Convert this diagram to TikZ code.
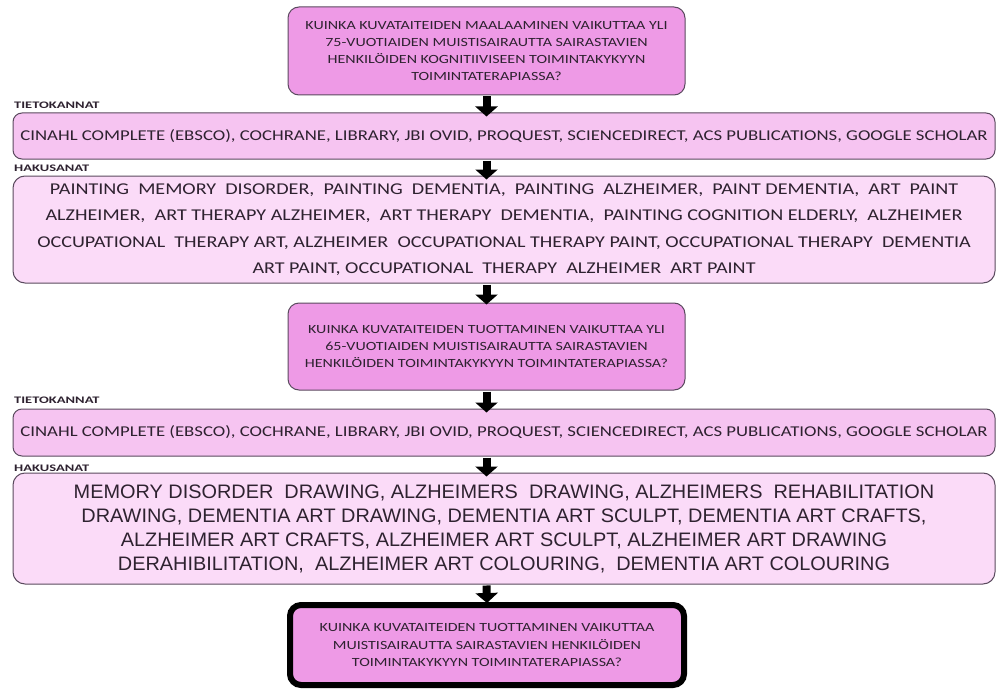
\documentclass[tikz,border=0pt]{standalone}
\usepackage{fontspec}
\setmainfont{Carlito}
\newfontfamily\arialf[FakeStretch=1.02]{Liberation Sans}
\newfontfamily\calq[FakeStretch=1.28]{Carlito}
\newfontfamily\cald[FakeStretch=1.25]{Carlito}
\newfontfamily\calk[FakeStretch=1.22]{Carlito}
\newfontfamily\call[FakeStretch=1.45]{Carlito}
\usetikzlibrary{arrows.meta}
\definecolor{dpink}{HTML}{EE9AE6}
\definecolor{mpink}{HTML}{F6C4F1}
\definecolor{lpink}{HTML}{FBDBF8}
\definecolor{bord}{HTML}{5A4A5E}
\definecolor{txt}{HTML}{2E2230}
\tikzset{
  qbox/.style={draw=bord, line width=1pt, fill=dpink, rounded corners=11pt, inner sep=0pt, minimum width=397pt, align=center, text=txt, font=\calq\fontsize{12.5}{17.3}\selectfont},
  dbbox/.style={draw=bord, line width=1pt, fill=mpink, rounded corners=9pt, inner sep=0pt, minimum width=982pt, align=center, text=txt, font=\cald\fontsize{15}{18}\selectfont},
  kwbox/.style={draw=bord, line width=1pt, fill=lpink, rounded corners=12pt, inner sep=0pt, minimum width=982pt, align=center, text=txt},
  lbl/.style={anchor=base west, inner sep=0pt, text=txt, font=\call\fontsize{10}{12}\selectfont\bfseries},
  bigarrow/.style={line width=8pt, -{Triangle[width=22pt,length=10pt]}, black}
}
\begin{document}
\begin{tikzpicture}[x=1pt,y=-1pt]
\useasboundingbox (0,0) rectangle (998,690);
\node[qbox, minimum height=88pt] (b1) at (486.5,51) {KUINKA KUVATAITEIDEN MAALAAMINEN VAIKUTTAA YLI\\75-VUOTIAIDEN MUISTISAIRAUTTA SAIRASTAVIEN\\HENKILÖIDEN KOGNITIIVISEEN TOIMINTAKYKYYN\\TOIMINTATERAPIASSA?};
\node[lbl] (l1) at (14,109) {TIETOKANNAT};
\node[dbbox, minimum height=46pt] (b2) at (504,136) {CINAHL COMPLETE (EBSCO), COCHRANE, LIBRARY, JBI OVID, PROQUEST, SCIENCEDIRECT, ACS PUBLICATIONS, GOOGLE SCHOLAR};
\node[lbl] (l2) at (14,171) {HAKUSANAT};
\node[kwbox, minimum height=107pt, font=\calk\fontsize{16.5}{26.5}\selectfont] (b3) at (504,229.5) {PAINTING \ MEMORY \ DISORDER, \ PAINTING \ DEMENTIA, \ PAINTING \ ALZHEIMER, \ PAINT DEMENTIA, \ ART \ PAINT\\ALZHEIMER, \ ART THERAPY ALZHEIMER, \ ART THERAPY \ DEMENTIA, \ PAINTING COGNITION ELDERLY, \ ALZHEIMER\\OCCUPATIONAL \ THERAPY ART, ALZHEIMER \ OCCUPATIONAL THERAPY PAINT, OCCUPATIONAL THERAPY \ DEMENTIA\\ART PAINT, OCCUPATIONAL \ THERAPY \ ALZHEIMER \ ART PAINT};
\node[qbox, minimum height=87pt] (b4) at (486.5,346.5) {KUINKA KUVATAITEIDEN TUOTTAMINEN VAIKUTTAA YLI\\65-VUOTIAIDEN MUISTISAIRAUTTA SAIRASTAVIEN\\HENKILÖIDEN TOIMINTAKYKYYN TOIMINTATERAPIASSA?};
\node[lbl] (l3) at (14,403) {TIETOKANNAT};
\node[dbbox, minimum height=47pt] (b5) at (504,432.5) {CINAHL COMPLETE (EBSCO), COCHRANE, LIBRARY, JBI OVID, PROQUEST, SCIENCEDIRECT, ACS PUBLICATIONS, GOOGLE SCHOLAR};
\node[lbl] (l4) at (14,471) {HAKUSANAT};
\node[kwbox, minimum height=111pt, font=\arialf\fontsize{19.5}{24}\selectfont] (b6) at (504,528.5) {MEMORY DISORDER \ DRAWING, ALZHEIMERS \ DRAWING, ALZHEIMERS \ REHABILITATION\\DRAWING, DEMENTIA ART DRAWING, DEMENTIA ART SCULPT, DEMENTIA ART CRAFTS,\\ALZHEIMER ART CRAFTS, ALZHEIMER ART SCULPT, ALZHEIMER ART DRAWING\\DERAHIBILITATION, \ ALZHEIMER ART COLOURING, \ DEMENTIA ART COLOURING};
\node[qbox, draw=black, line width=6pt, minimum width=394pt, minimum height=80pt] (b7) at (487,645) {KUINKA KUVATAITEIDEN TUOTTAMINEN VAIKUTTAA\\MUISTISAIRAUTTA SAIRASTAVIEN HENKILÖIDEN\\TOIMINTAKYKYYN TOIMINTATERAPIASSA?};
\draw[bigarrow] ([yshift=-1pt]b1.south) -- ([yshift=-4pt]b1.south |- b2.north);
\draw[bigarrow] ([yshift=-1pt]b1.south |- b2.south) -- ([yshift=-4pt]b1.south |- b3.north);
\draw[bigarrow] ([yshift=-1pt]b1.south |- b3.south) -- ([yshift=-2pt]b4.north);
\draw[bigarrow] ([yshift=-1pt]b4.south) -- ([yshift=-4pt]b4.south |- b5.north);
\draw[bigarrow] ([yshift=-1pt]b4.south |- b5.south) -- ([yshift=-4pt]b4.south |- b6.north);
\draw[bigarrow] ([yshift=-1pt]b4.south |- b6.south) -- ([yshift=-1pt]b7.north);
\end{tikzpicture}
\end{document}
